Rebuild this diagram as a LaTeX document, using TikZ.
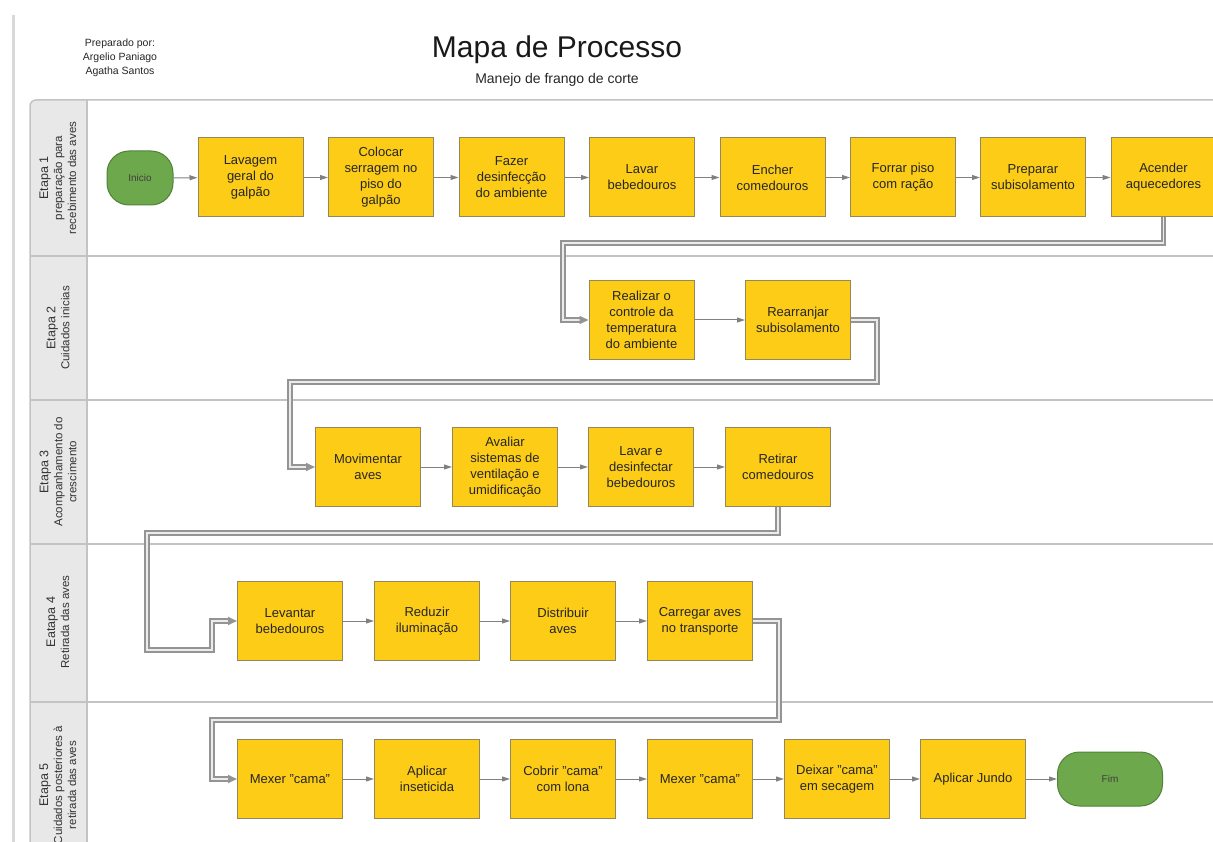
\documentclass[tikz,border=0pt]{standalone}
\usepackage{fontspec}
\setmainfont{Liberation Sans}
\usetikzlibrary{arrows.meta}

\definecolor{boxyellow}{RGB}{252,204,22}
\definecolor{boxedge}{RGB}{150,135,90}
\definecolor{startgreen}{RGB}{110,168,76}
\definecolor{startedge}{RGB}{80,130,55}
\definecolor{lanegray}{RGB}{232,232,232}
\definecolor{laneline}{RGB}{195,195,195}
\definecolor{flowgray}{RGB}{128,128,128}

\begin{document}
\begin{tikzpicture}[x=1pt,y=-1pt,
	stepnode/.style={rectangle,draw=boxedge,fill=boxyellow,line width=1pt,minimum width=105pt,minimum height=79pt,inner sep=2pt,align=center,font=\fontsize{13}{16}\selectfont,text=black!85},
	endnode/.style={rectangle,rounded corners=22pt,draw=startedge,fill=startgreen,line width=1pt,minimum height=54pt,font=\fontsize{10}{12}\selectfont,text=black!75},
	lanelabel/.style={rotate=90,align=center,font=\fontsize{11.5}{14}\selectfont,text=black!80},
	poolline/.style={draw=laneline,line width=1.5pt},
	flow/.style={draw=flowgray,line width=1pt,-{Triangle[length=8pt,width=5pt]}},
	dblflow/.style={draw=black!42,line width=2pt,double=white!92!black,double distance=1.3pt,-{Triangle[length=9pt,width=8pt]}}
]
\useasboundingbox (0,0) rectangle (1213,842);
\clip (0,0) rectangle (1213,842);

% Kopf
\draw[black!15,line width=3pt] (13,15) -- (13,842);
\node[align=center,font=\fontsize{10.5}{14}\selectfont,text=black!85] (autores) at (120,58) {Preparado por:\\Argelio Paniago\\Agatha Santos};
\node[font=\fontsize{30}{34}\selectfont,text=black!90] (titulo) at (557,50) {Mapa de Processo};
\node[font=\fontsize{14}{16}\selectfont,text=black!85] (subtitulo) at (557,80) {Manejo de frango de corte};

% Bahnen
\begin{scope}
\clip[rounded corners=6pt] (30,100) rectangle (1300,900);
\fill[lanegray] (30,100) rectangle (87,900);
\end{scope}
\draw[poolline,rounded corners=6pt] (30,100) rectangle (1300,900);
\draw[poolline] (87,100) -- (87,842);
\foreach \y in {256,400,544,702}
	\draw[poolline] (30,\y) -- (1213,\y);

\node[lanelabel] (etapa1) at (58,178) {{\fontsize{12.5}{14}\selectfont Etapa 1}\\preparação para\\recebimento das aves};
\node[lanelabel] (etapa2) at (58,328) {{\fontsize{12.5}{14}\selectfont Etapa 2}\\Cuidados inicias};
\node[lanelabel] (etapa3) at (58,472) {{\fontsize{12.5}{14}\selectfont Etapa 3}\\Acompanhamento do\\crescimento};
\node[lanelabel] (etapa4) at (58,622) {{\fontsize{12.5}{14}\selectfont Eatapa 4}\\Retirada das aves};
\node[lanelabel] (etapa5) at (58,785) {{\fontsize{12.5}{14}\selectfont Etapa 5}\\Cuidados posteriores à\\retirada das aves};

% Etapa 1
\node[endnode,minimum width=66pt] (inicio) at (140,178) {Inicio};
\node[stepnode] (lavagem) at (250.5,177.5) {Lavagem\\geral do\\galpão};
\node[stepnode] (colocar) at (381,177.5) {Colocar\\serragem no\\piso do\\galpão};
\node[stepnode] (fazer) at (511.5,177.5) {Fazer\\desinfecção\\do ambiente};
\node[stepnode] (lavar) at (642,177.5) {Lavar\\bebedouros};
\node[stepnode] (encher) at (772.5,177.5) {Encher\\comedouros};
\node[stepnode] (forrar) at (903,177.5) {Forrar piso\\com ração};
\node[stepnode] (preparar) at (1033,177.5) {Preparar\\subisolamento};
\node[stepnode] (acender) at (1163.5,177.5) {Acender\\aquecedores};

% Etapa 2
\node[stepnode] (realizar) at (641.5,320) {Realizar o\\controle da\\temperatura\\do ambiente};
\node[stepnode] (rearranjar) at (798,320) {Rearranjar\\subisolamento};

% Etapa 3
\node[stepnode] (movimentar) at (368,467) {Movimentar\\aves};
\node[stepnode] (avaliar) at (505,467) {Avaliar\\sistemas de\\ventilação e\\umidificação};
\node[stepnode] (desinfectar) at (641,467) {Lavar e\\desinfectar\\bebedouros};
\node[stepnode] (retirar) at (778,467) {Retirar\\comedouros};

% Etapa 4
\node[stepnode] (levantar) at (290,621) {Levantar\\bebedouros};
\node[stepnode] (reduzir) at (427,621) {Reduzir\\iluminação};
\node[stepnode] (distribuir) at (563,621) {Distribuir\\aves};
\node[stepnode] (carregar) at (700,621) {Carregar aves\\no transporte};

% Etapa 5
\node[stepnode] (mexer) at (290,779) {Mexer "cama"};
\node[stepnode] (aplicar) at (427,779) {Aplicar\\inseticida};
\node[stepnode] (cobrir) at (563,779) {Cobrir "cama"\\com lona};
\node[stepnode] (remexer) at (700,779) {Mexer "cama"};
\node[stepnode] (deixar) at (837,779) {Deixar "cama"\\em secagem};
\node[stepnode] (jundo) at (973,779) {Aplicar Jundo};
\node[endnode,minimum width=105pt] (fim) at (1110,779) {Fim};

% Ablauf
\draw[flow] (inicio) -- (lavagem);
\draw[flow] (lavagem) -- (colocar);
\draw[flow] (colocar) -- (fazer);
\draw[flow] (fazer) -- (lavar);
\draw[flow] (lavar) -- (encher);
\draw[flow] (encher) -- (forrar);
\draw[flow] (forrar) -- (preparar);
\draw[flow] (preparar) -- (acender);
\draw[dblflow] (acender.south) |- (563,243) |- (realizar.west);
\draw[flow] (realizar) -- (rearranjar);
\draw[dblflow] (rearranjar.east) -| (877,382) -| (290,467) -- (movimentar.west);
\draw[flow] (movimentar) -- (avaliar);
\draw[flow] (avaliar) -- (desinfectar);
\draw[flow] (desinfectar) -- (retirar);
\draw[dblflow] (retirar.south) |- (147,533) |- (212,650) |- (levantar.west);
\draw[flow] (levantar) -- (reduzir);
\draw[flow] (reduzir) -- (distribuir);
\draw[flow] (distribuir) -- (carregar);
\draw[dblflow] (carregar.east) -| (779,720) -| (212,779) -- (mexer.west);
\draw[flow] (mexer) -- (aplicar);
\draw[flow] (aplicar) -- (cobrir);
\draw[flow] (cobrir) -- (remexer);
\draw[flow] (remexer) -- (deixar);
\draw[flow] (deixar) -- (jundo);
\draw[flow] (jundo) -- (fim);

\end{tikzpicture}
\end{document}
